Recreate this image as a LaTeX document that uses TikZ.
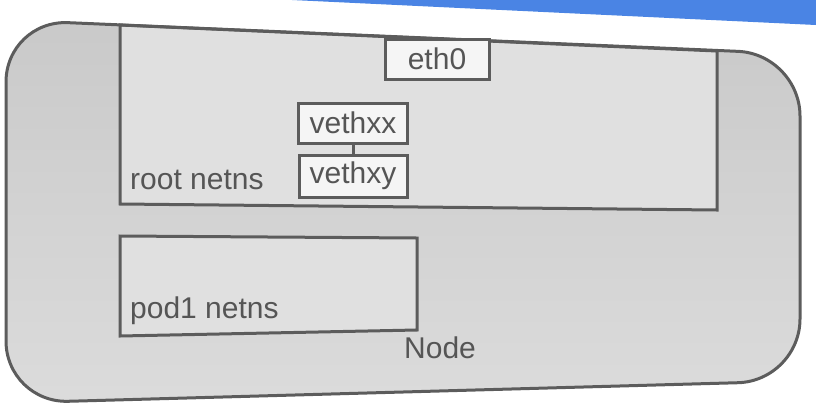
\documentclass[tikz,border=0pt]{standalone}
\usepackage{fontspec}
\setmainfont{Liberation Sans}
\definecolor{bandblue}{HTML}{4A84E4}
\definecolor{edgegray}{HTML}{5C5C5C}
\definecolor{labelgray}{HTML}{555555}
\definecolor{nsfill}{HTML}{E0E0E0}
\definecolor{boxfill}{HTML}{F5F5F5}
\begin{document}
\begin{tikzpicture}[
  x=1pt, y=-1pt,
  every node/.style={text=labelgray, font=\fontsize{30}{34}\selectfont},
  ifbox/.style={draw=edgegray, fill=boxfill, line width=3pt, inner sep=0pt},
  nsframe/.style={draw=edgegray, fill=nsfill, line width=3pt}
]
  \useasboundingbox (0,0) rectangle (816,410);
  \fill[bandblue] (292,0) -- (816,0) -- (816,25) -- cycle;

  % node body
  \shade[top color=black!21, bottom color=black!14, rounded corners=62pt]
    (6,20) -- (800,54) -- (800,381) -- (6,403) -- cycle;
  \filldraw[nsframe] (120,25) -- (717,51) -- (717,210) -- (120,204) -- cycle;
  \filldraw[nsframe] (120,236) -- (417,238) -- (417,330) -- (120,336) -- cycle;
  \draw[edgegray, line width=3pt, rounded corners=62pt]
    (6,20) -- (800,54) -- (800,381) -- (6,403) -- cycle;

  \node[ifbox, minimum width=104pt, minimum height=40pt] (eth) at (437,59) {eth0};
  \node[ifbox, minimum width=109pt, minimum height=40pt] (vxx) at (353,123) {vethxx};
  \node[ifbox, minimum width=108pt, minimum height=42pt] (vxy) at (353,176) {vethxy};
  \draw[edgegray, line width=3pt] (vxx) -- (vxy);

  \node[anchor=base west, inner sep=0pt] (rootns) at (130,189) {root netns};
  \node[anchor=base west, inner sep=0pt] (podns) at (130,318) {pod1 netns};
  \node[anchor=base west, inner sep=0pt] (host) at (404,358) {Node};
\end{tikzpicture}
\end{document}
